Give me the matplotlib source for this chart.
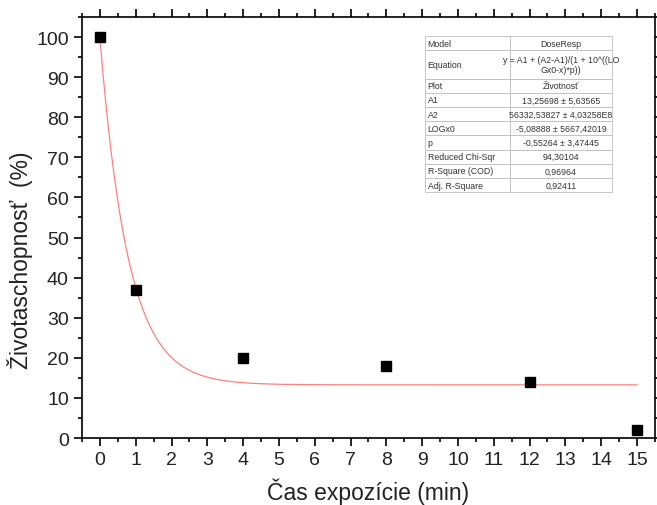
import matplotlib
matplotlib.use("Agg")
import matplotlib.pyplot as plt
from matplotlib.ticker import MultipleLocator
import numpy as np

plt.rcParams["font.family"] = ["Liberation Sans", "DejaVu Sans"]

# measured points
time_min = [0, 1, 4, 8, 12, 15]
viability = [100, 37, 20, 18, 14, 2]

# DoseResp fit parameters (from the result table)
A1 = 13.25698
A2 = 56332.53827
LOGX0 = -5.08888
P = -0.55264

table_labels = ["Model", "Equation", "Plot", "A1", "A2", "LOGx0", "p",
                "Reduced Chi-Sqr", "R-Square (COD)", "Adj. R-Square"]
table_values = ["DoseResp",
                "y = A1 + (A2-A1)/(1 + 10^((LO\nGx0-x)*p))",
                "Životnosť",
                "13,25698 ± 5,63565",
                "56332,53827 ± 4,03258E8",
                "-5,08888 ± 5667,42019",
                "-0,55264 ± 3,47445",
                "94,30104",
                "0,96964",
                "0,92411"]


def dose_resp(x):
    return A1 + (A2 - A1) / (1 + 10 ** ((LOGX0 - x) * P))


fig = plt.figure(figsize=(6.57, 5.06), dpi=100)
ax = fig.add_axes([0.1248, 0.1324, 0.872, 0.832])

xs = np.linspace(0, 15, 400)
ax.plot(xs, dose_resp(xs), color="#ff8080", lw=0.9, zorder=2)
ax.plot(time_min, viability, "s", color="black", ms=7, zorder=3)

ax.set_xlim(-0.5, 15.5)
ax.set_ylim(0, 105)
ax.xaxis.set_major_locator(MultipleLocator(1))
ax.xaxis.set_minor_locator(MultipleLocator(0.5))
ax.yaxis.set_major_locator(MultipleLocator(10))
ax.yaxis.set_minor_locator(MultipleLocator(5))
ax.tick_params(which="both", direction="out", top=True, right=True,
               width=1.2, labelsize=14, colors="black")
ax.tick_params(which="major", length=6)
ax.tick_params(which="minor", length=3)
for lbl in ax.get_xticklabels() + ax.get_yticklabels():
    lbl.set_color("#222222")
for s in ax.spines.values():
    s.set_linewidth(1.2)

ax.set_xlabel("Čas expozície (min)", fontsize=16.5, labelpad=7, color="#222222")
ax.set_ylabel("Životaschopnosť  (%)", fontsize=16.5, color="#222222")
ax.yaxis.set_label_coords(-0.086, 0.425)

# fit results table
rows = [[a, b] for a, b in zip(table_labels, table_values)]
tbl = ax.table(cellText=rows, colWidths=[0.455, 0.545],
               bbox=[0.599, 0.584, 0.326, 0.371], zorder=4)
tbl.auto_set_font_size(False)
tbl.set_fontsize(6.3)
for (r, c), cell in tbl.get_celld().items():
    cell.set_edgecolor("#bdbdbd")
    cell.set_linewidth(0.6)
    cell.get_text().set_color("#333333")
    if r == 1:
        cell.set_height(cell.get_height() * 2)
    if c == 0:
        cell.get_text().set_ha("left")
        cell.PAD = 0.03
    else:
        cell.get_text().set_ha("center")

fig.savefig("out.png", dpi=100)
